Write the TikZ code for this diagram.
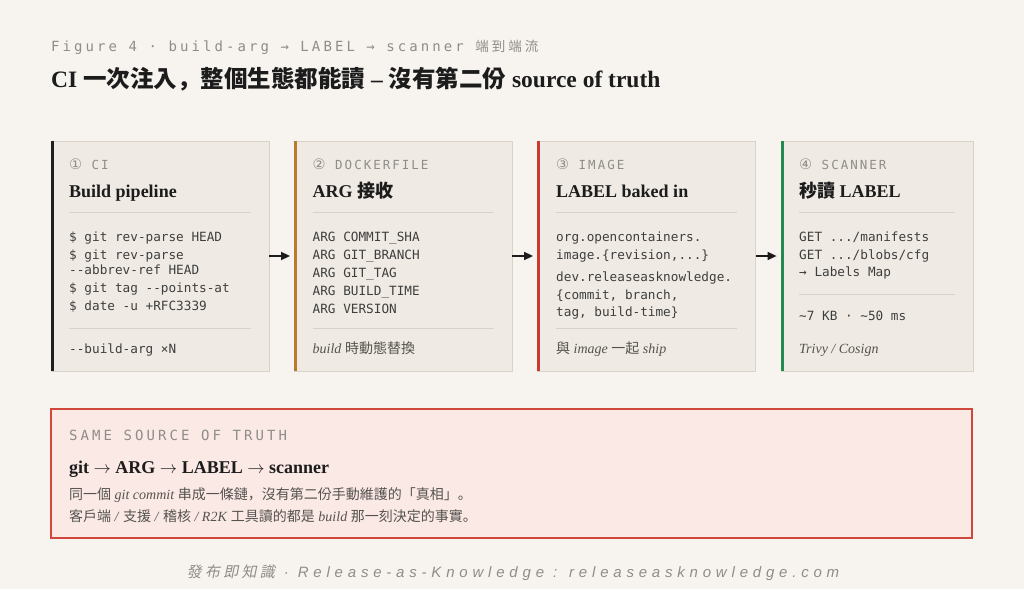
\documentclass[tikz,border=0pt]{standalone}
\usepackage{fontspec}
\setmainfont{Liberation Serif}
\setmonofont{DejaVu Sans Mono}
\newfontfamily\cjk{Noto Sans CJK JP}
\newfontfamily\symfont{DejaVu Sans}
\newfontfamily\capsmono{DejaVu Sans Mono}[LetterSpace=22]
\newfontfamily\tagmono{DejaVu Sans Mono}[LetterSpace=16]
\newfontfamily\capscjk{Noto Sans CJK JP}[LetterSpace=22]
\newfontfamily\footfont{Liberation Sans}[LetterSpace=32]
\newfontfamily\footcjk{Noto Sans CJK JP}[LetterSpace=22,FakeSlant=0.2]
\usetikzlibrary{arrows.meta}

\definecolor{bg}{HTML}{F7F4EF}
\definecolor{cardfill}{HTML}{EFEBE4}
\definecolor{cardline}{HTML}{D8D2C8}
\definecolor{ink}{HTML}{1C1C1C}
\definecolor{codeink}{HTML}{3E3E3E}
\definecolor{taggray}{HTML}{8F8D89}
\definecolor{notegray}{HTML}{55534F}
\definecolor{cibar}{HTML}{1F1F1F}
\definecolor{dockerbar}{HTML}{B97A2B}
\definecolor{imagebar}{HTML}{C93A2F}
\definecolor{scanbar}{HTML}{24894E}
\definecolor{truthfill}{HTML}{FBE9E6}
\definecolor{truthline}{HTML}{D0473C}

\newcommand{\zh}[1]{{\cjk #1}}
\newcommand{\stepnum}[1]{{\symfont\fontsize{14.5}{14}\selectfont #1}}

\tikzset{
  card/.style={draw=cardline, line width=0.8pt, fill=cardfill, minimum height=230pt, inner sep=0},
  bar/.style={line width=3pt, draw=#1},
  tag/.style={anchor=base west, inner sep=0, text=taggray, font=\tagmono\fontsize{12.5}{14}\selectfont},
  head/.style={anchor=base west, inner sep=0, text=ink, font=\bfseries\fontsize{18}{20}\selectfont},
  code/.style={anchor=base west, inner sep=0, text=codeink, font=\ttfamily\fontsize{12.7}{15}\selectfont},
  note/.style={anchor=base west, inner sep=0, text=notegray, font=\fontsize{14}{16}\selectfont},
  sep/.style={draw=cardline, line width=0.8pt},
  flow/.style={-{Triangle[length=9pt,width=8pt]}, line width=1.5pt, draw=ink, shorten >=4pt},
}

\begin{document}
\begin{tikzpicture}[x=1pt,y=-1pt]
  % 背景
  \fill[bg] (0,0) rectangle (1024,589);
  \useasboundingbox (0,0) rectangle (1024,589);

  % 標題
  \node[anchor=base west, inner sep=0, text=taggray, font=\capsmono\fontsize{14}{16}\selectfont] (fig) at (51,51)
    {Figure 4 · build-arg → LABEL → scanner {\capscjk\fontsize{13.5}{15}\selectfont 端到端流}};
  \node[anchor=base west, inner sep=0, text=ink, font=\bfseries\fontsize{23.5}{27}\selectfont] (title) at (51,87)
    {CI \zh{一次注入，整個生態都能讀} – \zh{沒有第二份} source of truth};

  % 四張卡片
  \node[card, minimum width=218pt] (ci) at (160,256) {};
  \node[card, minimum width=217.5pt] (docker) at (403.25,256) {};
  \node[card, minimum width=218pt] (image) at (646.5,256) {};
  \node[card, minimum width=192pt] (scanner) at (877,256) {};
  \draw[bar=cibar] ([xshift=1.5pt]ci.north west) -- ([xshift=1.5pt]ci.south west);
  \draw[bar=dockerbar] ([xshift=1.5pt]docker.north west) -- ([xshift=1.5pt]docker.south west);
  \draw[bar=imagebar] ([xshift=1.5pt]image.north west) -- ([xshift=1.5pt]image.south west);
  \draw[bar=scanbar] ([xshift=1.5pt]scanner.north west) -- ([xshift=1.5pt]scanner.south west);

  % 卡片之間的箭頭
  \draw[flow] (ci) -- (docker);
  \draw[flow] (docker) -- (image);
  \draw[flow] (image) -- (scanner);

  % ① CI
  \node[tag] (ci-tag) at (69,169) {\stepnum{①} CI};
  \node[head] (ci-head) at (69,197.5) {Build pipeline};
  \draw[sep] (69,212) -- (251,212);
  \foreach \t/\y [count=\i] in {{\$ git rev-parse HEAD}/241, {\$ git rev-parse}/259,
      {-{}-abbrev-ref HEAD}/274, {\$ git tag -{}-points-at}/292, {\$ date -u +RFC3339}/310}
    \node[code] (ci-code\i) at (69,\y) {\t};
  \draw[sep] (69,328) -- (251,328);
  \node[code] (ci-foot) at (69,353) {-{}-build-arg ×N};

  % ② DOCKERFILE
  \node[tag] (docker-tag) at (312.5,169) {\stepnum{②} DOCKERFILE};
  \node[head] (docker-head) at (312.5,197.5) {ARG \zh{接收}};
  \draw[sep] (312.5,212) -- (494,212);
  \foreach \t/\y [count=\i] in {{ARG COMMIT\_SHA}/241, {ARG GIT\_BRANCH}/259,
      {ARG GIT\_TAG}/277, {ARG BUILD\_TIME}/295, {ARG VERSION}/313}
    \node[code] (docker-code\i) at (312.5,\y) {\t};
  \draw[sep] (312.5,328) -- (494,328);
  \node[note] (docker-foot) at (312.5,353) {\textit{build} \zh{時動態替換}};

  % ③ IMAGE
  \node[tag] (image-tag) at (556,169) {\stepnum{③} IMAGE};
  \node[head] (image-head) at (556,197.5) {LABEL baked in};
  \draw[sep] (556,212) -- (737,212);
  \foreach \t/\y [count=\i] in {{org.opencontainers.}/241, {image.\{revision,...\}}/259,
      {dev.releaseasknowledge.}/281.5, {\{commit, branch,}/299, {tag, build-time\}}/316.5}
    \node[code] (image-code\i) at (556,\y) {\t};
  \draw[sep] (556,328) -- (737,328);
  \node[note] (image-foot) at (556,353) {\zh{與} \textit{image} \zh{一起} \textit{ship}};

  % ④ SCANNER
  \node[tag] (scan-tag) at (799,169) {\stepnum{④} SCANNER};
  \node[head] (scan-head) at (799,197.5) {\zh{秒讀} LABEL};
  \draw[sep] (799,212) -- (955,212);
  \foreach \t/\y [count=\i] in {{GET .../manifests}/241, {GET .../blobs/cfg}/259, {→ Labels Map}/276.5}
    \node[code] (scan-code\i) at (799,\y) {\t};
  \draw[sep] (799,294.5) -- (955,294.5);
  \node[code] (scan-cost) at (799,320) {\textasciitilde 7 KB · \textasciitilde 50 ms};
  \node[note] (scan-foot) at (799,353) {\textit{Trivy / Cosign}};

  % 同一份 source of truth
  \node[draw=truthline, line width=1.6pt, fill=truthfill, minimum width=921pt, minimum height=128.5pt, inner sep=0] (truth) at (511.5,473.5) {};
  \node[anchor=base west, inner sep=0, text=taggray, font=\capsmono\fontsize{14}{16}\selectfont] (truth-tag) at (69,440) {SAME SOURCE OF TRUTH};
  \node[head] (truth-head) at (69,473.5)
    {git $\rightarrow$ ARG $\rightarrow$ LABEL $\rightarrow$ scanner};
  \node[note] (truth-l1) at (69,499.5) {\zh{同一個} \textit{git commit} \zh{串成一條鏈，沒有第二份手動維護的「真相」。}};
  \node[note] (truth-l2) at (69,521.5) {\zh{客戶端} \textit{/} \zh{支援} \textit{/} \zh{稽核} \textit{/ R2K} \zh{工具讀的都是} \textit{build} \zh{那一刻決定的事實。}};

  % 頁尾
  \node[anchor=base, inner sep=0, text=taggray, font=\footfont\itshape\fontsize{15}{18}\selectfont] (footer) at (513,577)
    {{\footcjk 發布即知識} · Release-as-Knowledge : releaseasknowledge.com};
\end{tikzpicture}
\end{document}
